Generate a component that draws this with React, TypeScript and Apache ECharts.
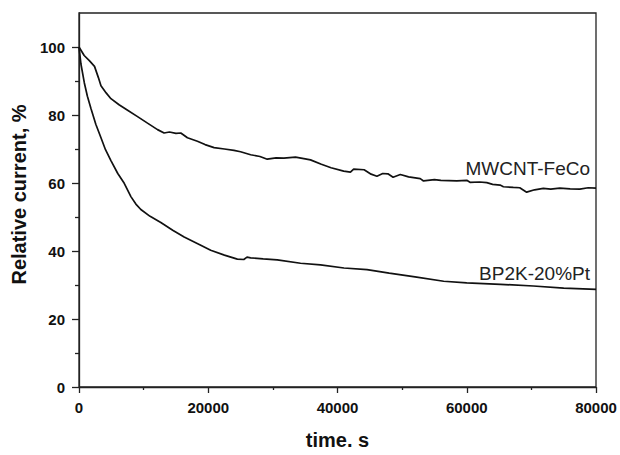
import React, { useEffect, useRef } from "react";
import * as echarts from "echarts";

const xTicks = [0, 20000, 40000, 60000, 80000];
const yMajorTicks = [0, 20, 40, 60, 80, 100];
const yMinorTicks = [10, 30, 50, 70, 90];

const seriesNames = ["MWCNT-FeCo", "BP2K-20%Pt"];

const mwcnt: [number, number][] = [
  [0, 100], [800, 97.5], [1600, 96], [2400, 94.3], [3000, 91], [3400, 88.6],
  [4200, 86.5], [4940, 84.8], [6200, 83], [7520, 81.4], [9000, 79.6],
  [10600, 77.6], [12150, 75.7], [13170, 74.7], [14000, 75], [15000, 74.6],
  [15750, 74.7], [16780, 73.3], [18320, 72.3], [19500, 71.3], [20900, 70.4],
  [22500, 70.0], [23980, 69.6], [25000, 69.2], [26560, 68.3], [28000, 67.8],
  [29130, 67], [30500, 67.4], [31700, 67.3], [33500, 67.6], [35000, 67.1],
  [35820, 66.8], [37500, 65.5], [39000, 64.5], [40960, 63.5], [42000, 63.2],
  [42500, 64.1], [44120, 63.9], [45200, 62.6], [46100, 62.0], [47000, 62.8],
  [47800, 62.7], [48600, 61.7], [49720, 62.5], [51000, 61.8], [52800, 61.3],
  [53310, 60.6], [55000, 61.0], [56000, 60.8], [58460, 60.6], [60000, 60.8],
  [60500, 60.2], [62000, 60.3], [63100, 60.1], [64000, 59.6], [65160, 59.4],
  [65670, 58.9], [67200, 58.7], [68200, 58.6], [69270, 57.3], [70500, 58.0],
  [71850, 58.4], [73000, 58.2], [74400, 58.5], [76000, 58.3], [77500, 58.2],
  [78800, 58.6], [80000, 58.5],
];

const bp2k: [number, number][] = [
  [0, 100], [300, 95], [820, 89.5], [1300, 85.5], [1850, 81.9], [2600, 77.3],
  [3400, 73.3], [4100, 69.8], [4940, 66.6], [6000, 62.8], [7000, 59.9],
  [8030, 56.0], [8800, 53.8], [9570, 52.2], [11000, 50.2], [12660, 48.4],
  [14500, 46.1], [16270, 44.1], [18840, 41.7], [20380, 40.2], [22500, 38.8],
  [24500, 37.6], [25500, 37.5], [26000, 38.2], [26560, 38.0], [28500, 37.7],
  [30680, 37.4], [34280, 36.4], [37370, 35.9], [41000, 35.0], [44570, 34.5],
  [48000, 33.5], [52000, 32.4], [56430, 31.1], [60000, 30.6], [65210, 30.2],
  [70300, 29.7], [75000, 29.1], [80000, 28.7],
];

const FONT = "'Liberation Sans', Arial, sans-serif";
const AXIS_COLOR = "#222";

export default function App() {
  const ref = useRef<HTMLDivElement>(null);
  useEffect(() => {
    if (!ref.current) return;
    const chart = echarts.init(ref.current, undefined, { renderer: "svg" });
    chart.setOption({
      animation: false,
      backgroundColor: "#fff",
      grid: {
        left: 79,
        right: 24,
        top: 13,
        bottom: 60,
        show: true,
        borderColor: AXIS_COLOR,
        borderWidth: 1.3,
        backgroundColor: "transparent",
      },
      xAxis: {
        type: "value",
        min: 0,
        max: 80000,
        interval: 20000,
        name: "time. s",
        nameLocation: "middle",
        nameGap: 43,
        nameTextStyle: { fontFamily: FONT, fontWeight: "bold", fontSize: 20, color: "#111" },
        axisLine: { show: true, onZero: false, lineStyle: { color: AXIS_COLOR, width: 1.3 } },
        axisTick: { show: true, inside: false, length: 6, customValues: xTicks, lineStyle: { color: AXIS_COLOR, width: 1.3 } },
        minorTick: { show: true, splitNumber: 2, length: 3, lineStyle: { color: AXIS_COLOR, width: 1.3 } },
        axisLabel: {
          customValues: xTicks,
          margin: 13,
          fontFamily: FONT,
          fontWeight: "bold",
          fontSize: 15,
          color: "#111",
          formatter: (v: number) => String(v),
        },
        splitLine: { show: false },
        minorSplitLine: { show: false },
      },
      yAxis: [
        {
          type: "value",
          min: 0,
          max: 110,
          name: "Relative current, %",
          nameLocation: "middle",
          nameGap: 48,
          nameTextStyle: {
            fontFamily: FONT,
            fontWeight: "bold",
            fontSize: 20,
            color: "#111",
            padding: [0, 0, 0, 11],
          },
          axisLine: { show: true, onZero: false, lineStyle: { color: AXIS_COLOR, width: 1.3 } },
          axisTick: { show: true, inside: false, length: 7, customValues: yMajorTicks, lineStyle: { color: AXIS_COLOR, width: 1.3 } },
          axisLabel: {
            customValues: yMajorTicks,
            margin: 14,
            fontFamily: FONT,
            fontWeight: "bold",
            fontSize: 15,
            color: "#111",
          },
          splitLine: { show: false },
        },
        {
          type: "value",
          min: 0,
          max: 110,
          position: "left",
          axisLine: { show: false },
          axisTick: { show: true, inside: false, length: 4, customValues: yMinorTicks, lineStyle: { color: AXIS_COLOR, width: 1.3 } },
          axisLabel: { show: false },
          splitLine: { show: false },
        },
      ],
      series: [
        {
          name: seriesNames[0],
          type: "line",
          data: mwcnt,
          showSymbol: false,
          lineStyle: { color: "#111", width: 1.7 },
          z: 3,
        },
        {
          name: seriesNames[1],
          type: "line",
          data: bp2k,
          showSymbol: false,
          lineStyle: { color: "#111", width: 1.7 },
          z: 3,
        },
      ],
      graphic: [
        {
          type: "text",
          right: 30,
          top: 159,
          style: { text: seriesNames[0], fontFamily: FONT, fontSize: 19, fill: "#222" },
        },
        {
          type: "text",
          right: 30,
          top: 264,
          style: { text: seriesNames[1], fontFamily: FONT, fontSize: 19, fill: "#222" },
        },
      ],
    });
    return () => chart.dispose();
  }, []);
  return (
    <div
      ref={ref}
      style={{ position: "absolute", left: 0, top: 0, width: 620, height: 455 }}
    />
  );
}
